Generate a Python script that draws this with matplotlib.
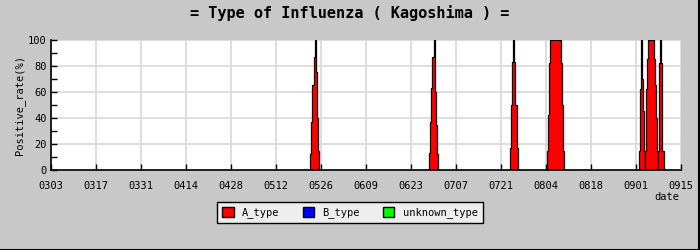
import numpy as np
import matplotlib
matplotlib.use("Agg")
import matplotlib.pyplot as plt
import matplotlib.dates as mdates
from matplotlib.patches import Patch
from matplotlib.lines import Line2D
from datetime import datetime, timedelta

# x axis ticks (every 14 days)
tick_labels = ["0303", "0317", "0331", "0414", "0428", "0512", "0526", "0609",
               "0623", "0707", "0721", "0804", "0818", "0901", "0915"]

# A_type positive rate (%), 8-hour steps, one list per outbreak
step_hours = 8
spike_starts = ["2009-05-22 16:00", "2009-06-28 16:00", "2009-07-23 20:00",
                "2009-08-04 08:00", "2009-09-01 20:00", "2009-09-03 20:00",
                "2009-09-07 20:00"]
spike_values = [
    [12, 37, 65, 87, 100, 75, 40, 15],
    [13, 37, 63, 87, 100, 60, 35, 12],
    [17, 50, 83, 100, 83, 50, 17],
    [15, 42, 82, 100, 100, 100, 100, 100, 100, 100, 100, 100, 100, 82, 50, 15],
    [15, 62, 100, 70, 45, 15],
    [15, 62, 85, 100, 100, 100, 100, 100, 85, 65, 40, 15],
    [15, 82, 100, 82, 15, 15],
]
b_type = []
unknown_type = []

bg = "#c8c8c8"
mono = "DejaVu Sans Mono"

fig = plt.figure(figsize=(7, 2.5), dpi=100, facecolor=bg)
ax = fig.add_axes([51 / 700, 80 / 250, 630 / 700, 130 / 250])
ax.set_facecolor("white")

for start, vals in zip(spike_starts, spike_values):
    t0 = datetime.strptime(start, "%Y-%m-%d %H:%M")
    t = mdates.date2num([t0 + timedelta(hours=step_hours * i) for i in range(len(vals) + 1)])
    px, py = [t[0]], [0]
    for i, v in enumerate(vals):
        px += [t[i], t[i + 1]]
        py += [v, v]
    px.append(t[-1])
    py.append(0)
    ax.fill(px, py, facecolor="red", edgecolor="black", lw=0.9, zorder=3)

tick_dates = [datetime(2009, int(s[:2]), int(s[2:])) for s in tick_labels]
xt = mdates.date2num(tick_dates)
ax.set_xlim(xt[0], xt[-1])
ax.set_ylim(0, 100)
ax.set_xticks(xt)
ax.set_xticklabels(tick_labels, fontfamily=mono, fontsize=7.5)
ax.set_yticks(range(0, 101, 20))
ax.set_yticks(range(0, 101, 10), minor=True)
ax.set_yticklabels([str(v) for v in range(0, 101, 20)], fontfamily=mono, fontsize=7.5)
ax.tick_params(axis="x", direction="in", length=4, width=1, color="black", pad=8)
ax.tick_params(axis="y", which="both", direction="in", length=4, width=1, color="black", pad=3)
ax.grid(True, color="#d8d8d8", lw=1.2, zorder=0)
for s in ["top", "right"]:
    ax.spines[s].set_visible(False)
for s in ["left", "bottom"]:
    ax.spines[s].set_linewidth(1.2)
    ax.spines[s].set_zorder(5)

ax.set_ylabel("Positive_rate(%)", fontfamily=mono, fontsize=7.5, labelpad=2)
fig.text(667 / 700, 1 - 197 / 250, "date", fontfamily=mono, fontsize=7.5,
         ha="center", va="center")
fig.text(0.5, 1 - 13 / 250, "= Type of Influenza ( Kagoshima ) =", fontfamily=mono,
         fontsize=11, fontweight="bold", ha="center", va="center")

handles = [Patch(facecolor="red", edgecolor="black", label="A_type"),
           Patch(facecolor="blue", edgecolor="black", label="B_type"),
           Patch(facecolor="#00ff00", edgecolor="black", label="unknown_type")]
leg = fig.legend(handles=handles, loc="center", bbox_to_anchor=(350 / 700, 1 - 212.5 / 250),
                 ncol=3, frameon=True, fancybox=False, prop={"family": mono, "size": 7.5},
                 handlelength=1.1, handleheight=1.1, handletextpad=0.8, columnspacing=2.2,
                 borderpad=0.5)
leg.get_frame().set_facecolor("#eeeeee")
leg.get_frame().set_edgecolor("black")
leg.get_frame().set_linewidth(1.0)
leg.get_frame().set_alpha(1)

# dark frame on the right and bottom edge
fig.add_artist(Line2D([0, 1], [0.002, 0.002], color="black", lw=1.5, transform=fig.transFigure))
fig.add_artist(Line2D([0.998, 0.998], [0, 1], color="black", lw=1.5, transform=fig.transFigure))

fig.savefig("out.png", dpi=100, facecolor=bg)
